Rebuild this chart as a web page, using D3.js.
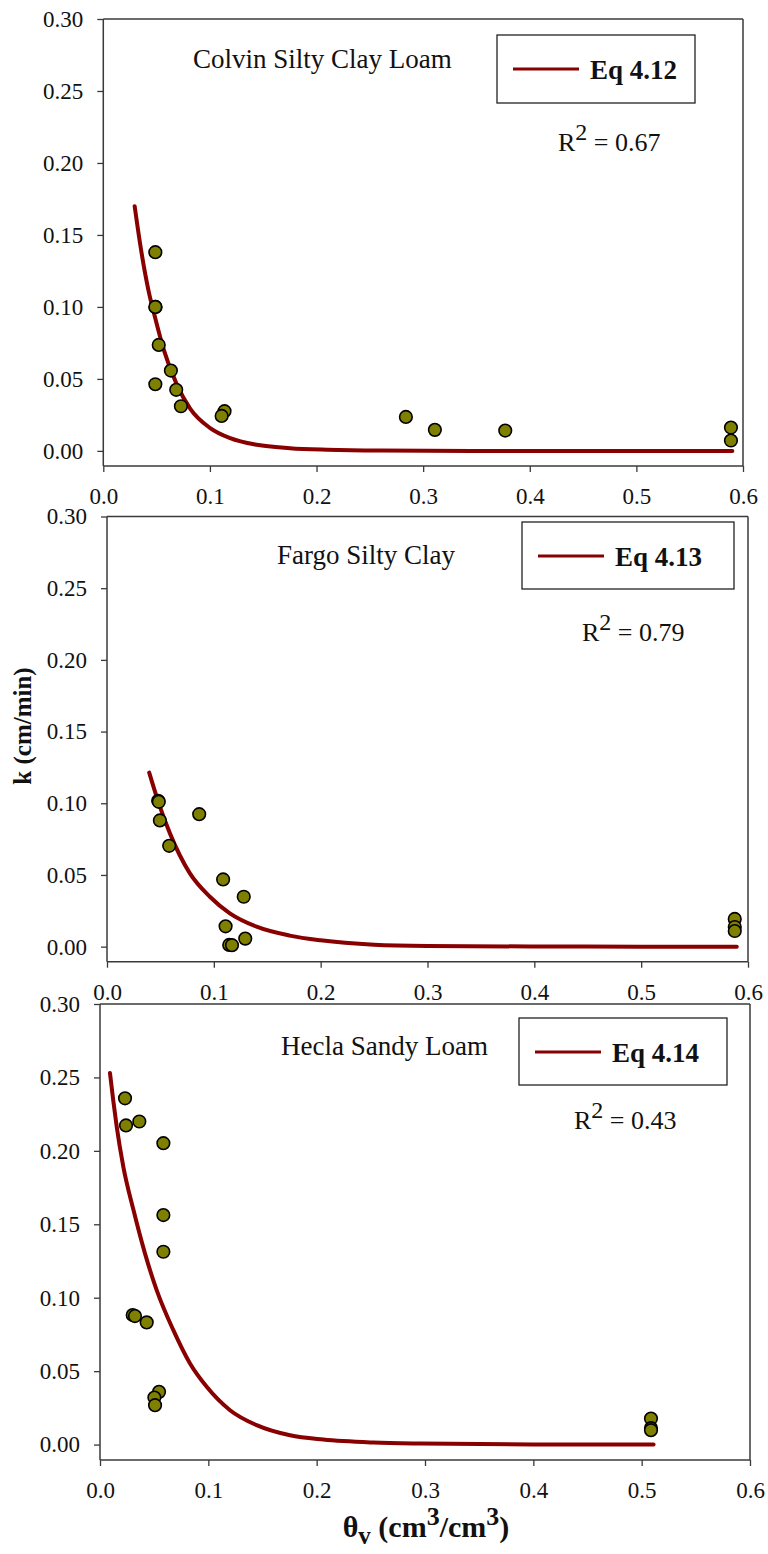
<!DOCTYPE html>
<html>
<head>
<meta charset="utf-8">
<script src="https://cdn.jsdelivr.net/npm/d3@7"></script>
<style>
  html, body { margin: 0; padding: 0; background: #fff; }
  svg { display: block; font-family: 'Liberation Serif', 'Times New Roman', serif; }
  svg text { font-family: 'Liberation Serif', 'Times New Roman', serif; }
</style>
</head>
<body>
<svg id="chart" width="768" height="1554"></svg>
<script>
// Axis ticks shared by all three panels
const xTickValues = [0, 0.1, 0.2, 0.3, 0.4, 0.5, 0.6];
const yTickValues = [0, 0.05, 0.10, 0.15, 0.20, 0.25, 0.30];

// Panel labels
const soilNames = ["Colvin Silty Clay Loam", "Fargo Silty Clay", "Hecla Sandy Loam"];
const eqLabels = ["Eq 4.12", "Eq 4.13", "Eq 4.14"];
const r2Values = ["0.67", "0.79", "0.43"];

// Colvin silty clay loam: measured theta_v (cm3/cm3) and k (cm/min)
const colvinTheta = [0.0488, 0.0490, 0.0488, 0.0520, 0.0634, 0.0488, 0.0684, 0.0728, 0.1137, 0.1110, 0.2838, 0.3110, 0.3770, 0.5887, 0.5887];
const colvinK     = [0.1380, 0.1000, 0.1000, 0.0736, 0.0558, 0.0463, 0.0424, 0.0310, 0.0276, 0.0243, 0.0236, 0.0146, 0.0141, 0.0162, 0.0072];
// Eq 4.12 fitted curve
const colvinFitTheta = [0.0294, 0.0347, 0.0425, 0.0488, 0.0566, 0.0690, 0.0816, 0.1003, 0.1190, 0.1440, 0.1750, 0.2100, 0.2600, 0.3500, 0.4500, 0.5900];
const colvinFitK     = [0.1700, 0.1430, 0.1110, 0.0920, 0.0705, 0.0460, 0.0292, 0.0158, 0.0088, 0.0042, 0.0019, 0.0008, 0.0002, 0.0000, 0.0000, 0.0000];

// Fargo silty clay
const fargoTheta = [0.0479, 0.0485, 0.0495, 0.0582, 0.0863, 0.1087, 0.1280, 0.1110, 0.1294, 0.1144, 0.1170, 0.5876, 0.5876, 0.5876];
const fargoK     = [0.1017, 0.1010, 0.0880, 0.0703, 0.0924, 0.0469, 0.0348, 0.0142, 0.0056, 0.0012, 0.0010, 0.0193, 0.0137, 0.0109];
// Eq 4.13 fitted curve
const fargoFitTheta = [0.0395, 0.0480, 0.0589, 0.0776, 0.0963, 0.1150, 0.1400, 0.1710, 0.2000, 0.2500, 0.3000, 0.4000, 0.5000, 0.5895];
const fargoFitK     = [0.1214, 0.1010, 0.0790, 0.0511, 0.0348, 0.0232, 0.0139, 0.0077, 0.0044, 0.0014, 0.0005, 0.0001, 0.0000, 0.0000];

// Hecla sandy loam
const heclaTheta = [0.0231, 0.0240, 0.0363, 0.0585, 0.0585, 0.0585, 0.0302, 0.0323, 0.0431, 0.0545, 0.0502, 0.0508, 0.5086, 0.5086, 0.5086];
const heclaK     = [0.2358, 0.2173, 0.2200, 0.2052, 0.1563, 0.1313, 0.0882, 0.0875, 0.0832, 0.0359, 0.0320, 0.0268, 0.0177, 0.0112, 0.0098];
// Eq 4.14 fitted curve
const heclaFitTheta = [0.0092, 0.0123, 0.0154, 0.0215, 0.0308, 0.0415, 0.0523, 0.0677, 0.0831, 0.0985, 0.1200, 0.1446, 0.1754, 0.2061, 0.2523, 0.2954, 0.4000, 0.5110];
const heclaFitK     = [0.2530, 0.2340, 0.2166, 0.1893, 0.1600, 0.1302, 0.1052, 0.0779, 0.0552, 0.0393, 0.0234, 0.0132, 0.0063, 0.0034, 0.0014, 0.0007, 0.0001, 0.0000];

const xDomain = [0, 0.6];
const yDomain = [-0.0105, 0.30];

// Panel frames and annotation placement (pixels)
const panels = [
  { frame: { left: 103.3, right: 743, top: 19, bottom: 466 },
    title: { x: 193, y: 68 },
    legend: { x: 497, y: 35, w: 198, h: 68 },
    r2: { x: 558, y: 151 },
    theta: colvinTheta, k: colvinK, fitTheta: colvinFitTheta, fitK: colvinFitK },
  { frame: { left: 107, right: 748, top: 516.5, bottom: 961.7 },
    title: { x: 277, y: 564 },
    legend: { x: 522, y: 522, w: 212, h: 67 },
    r2: { x: 582, y: 641 },
    theta: fargoTheta, k: fargoK, fitTheta: fargoFitTheta, fitK: fargoFitK },
  { frame: { left: 100, right: 750, top: 1004, bottom: 1460 },
    title: { x: 281, y: 1055 },
    legend: { x: 519, y: 1018, w: 208, h: 67 },
    r2: { x: 574, y: 1129 },
    theta: heclaTheta, k: heclaK, fitTheta: heclaFitTheta, fitK: heclaFitK }
];

const serif = "'Liberation Serif', 'Times New Roman', serif";
const svg = d3.select("#chart");
const axisColor = "#3a3a3a";
const curveColor = "#880000";
const pointFill = "#808000";

panels.forEach((p, i) => {
  const f = p.frame;
  const x = d3.scaleLinear().domain(xDomain).range([f.left, f.right]);
  const y = d3.scaleLinear().domain(yDomain).range([f.bottom, f.top]);
  const g = svg.append("g");

  // top and right frame lines
  g.append("line").attr("x1", f.left).attr("x2", f.right).attr("y1", f.top).attr("y2", f.top)
    .attr("stroke", axisColor).attr("stroke-width", 1.5);
  g.append("line").attr("x1", f.right).attr("x2", f.right).attr("y1", f.top).attr("y2", f.bottom)
    .attr("stroke", axisColor).attr("stroke-width", 1.5);

  // bottom axis
  const xAxis = g.append("g").attr("transform", `translate(0,${f.bottom})`)
    .call(d3.axisBottom(x).tickValues(xTickValues).tickFormat(d3.format(".1f")).tickSizeOuter(0).tickSize(6).tickPadding(16));
  // left axis
  const yAxis = g.append("g").attr("transform", `translate(${f.left},0)`)
    .call(d3.axisLeft(y).tickValues(yTickValues).tickFormat(d3.format(".2f")).tickSizeOuter(0).tickSize(6).tickPadding(14));

  [xAxis, yAxis].forEach(a => {
    a.attr("font-family", serif).attr("font-size", 23);
    a.select(".domain").attr("stroke", axisColor).attr("stroke-width", 1.5);
    a.selectAll(".tick line").attr("stroke", axisColor).attr("stroke-width", 1.3);
    a.selectAll(".tick text").attr("fill", "#111")
      .attr("font-family", serif).style("font-family", serif).style("font-size", "23px");
  });
  xAxis.select(".domain").attr("d", `M${f.left},0H${f.right}`);
  yAxis.select(".domain").attr("d", `M0,${f.top}V${f.bottom}`);

  // fitted curve
  const pts = p.fitTheta.map((t, j) => [t, p.fitK[j]]);
  g.append("path").datum(pts)
    .attr("fill", "none").attr("stroke", curveColor).attr("stroke-width", 4)
    .attr("stroke-linecap", "round")
    .attr("d", d3.line().x(d => x(d[0])).y(d => y(d[1])).curve(d3.curveMonotoneX));

  // measured points
  const obs = p.theta.map((t, j) => [t, p.k[j]]);
  g.selectAll("circle.obs").data(obs).enter().append("circle")
    .attr("class", "obs")
    .attr("cx", d => x(d[0])).attr("cy", d => y(d[1])).attr("r", 6.3)
    .attr("fill", pointFill).attr("stroke", "#000").attr("stroke-width", 1.6);

  // soil name
  g.append("text").attr("x", p.title.x).attr("y", p.title.y)
    .style("font-size", "27px").attr("fill", "#111").text(soilNames[i]);

  // legend box
  const L = p.legend;
  g.append("rect").attr("x", L.x).attr("y", L.y).attr("width", L.w).attr("height", L.h)
    .attr("fill", "#fff").attr("stroke", "#222").attr("stroke-width", 1.3);
  g.append("line").attr("x1", L.x + 16).attr("x2", L.x + 82).attr("y1", L.y + 34).attr("y2", L.y + 34)
    .attr("stroke", curveColor).attr("stroke-width", 3);
  g.append("text").attr("x", L.x + 93).attr("y", L.y + 44)
    .style("font-size", "27px").style("font-weight", "bold").attr("fill", "#111").text(eqLabels[i]);

  // coefficient of determination
  const r2 = g.append("text").attr("x", p.r2.x).attr("y", p.r2.y)
    .style("font-size", "26px").attr("fill", "#111");
  r2.append("tspan").text("R");
  r2.append("tspan").attr("dy", -11).style("font-size", "24px").text("2");
  r2.append("tspan").attr("dy", 11).text(" = " + r2Values[i]);
});

// axis titles
svg.append("text")
  .attr("transform", "translate(31,726) rotate(-90)")
  .attr("text-anchor", "middle")
  .style("font-size", "25px").style("font-weight", "bold").attr("fill", "#111")
  .text("k (cm/min)");

const xTitle = svg.append("text").attr("x", 426).attr("y", 1537)
  .attr("text-anchor", "middle")
  .style("font-size", "30px").style("font-weight", "bold").attr("fill", "#111");
xTitle.append("tspan").text("θ");
xTitle.append("tspan").attr("dy", 7).style("font-size", "25px").text("v");
xTitle.append("tspan").attr("dy", -7).text(" (cm");
xTitle.append("tspan").attr("dy", -12).style("font-size", "26px").text("3");
xTitle.append("tspan").attr("dy", 12).text("/cm");
xTitle.append("tspan").attr("dy", -12).style("font-size", "26px").text("3");
xTitle.append("tspan").attr("dy", 12).text(")");
</script>
</body>
</html>
